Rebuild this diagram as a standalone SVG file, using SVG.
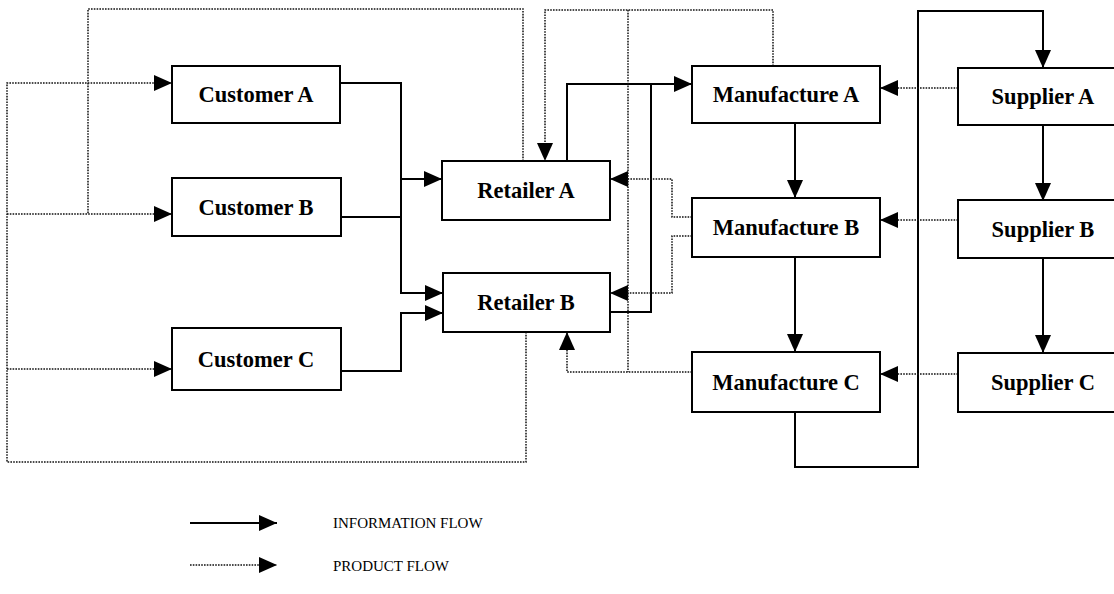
<svg xmlns="http://www.w3.org/2000/svg" width="1114" height="594" viewBox="0 0 1114 594">
<defs>
<style>
.box{fill:#fff;stroke:#000;stroke-width:2}
.lbl{font-family:"Liberation Serif","Times New Roman",serif;font-weight:bold;font-size:22.5px;fill:#000;text-anchor:middle}
.leg{font-family:"Liberation Serif","Times New Roman",serif;font-size:15px;fill:#000}
.info{fill:none;stroke:#000;stroke-width:2}
.prod{fill:none;stroke:#111;stroke-width:1.5;stroke-dasharray:1.6 1.2}
</style>
<marker id="ah" markerUnits="userSpaceOnUse" markerWidth="18" markerHeight="16" viewBox="0 0 18 16" refX="18" refY="8" orient="auto">
<path d="M0,0 L18,8 L0,16 Z" fill="#000"/>
</marker>
</defs>
<g id="connectors">
<!-- information flows -->
<path class="info" d="M340,83 H401 V179 H442" marker-end="url(#ah)"/>
<path class="info" d="M341,217 H401"/>
<path class="info" d="M401,179 V293 H443" marker-end="url(#ah)"/>
<path class="info" d="M341,371 H401 V313 H443" marker-end="url(#ah)"/>
<path class="info" d="M567,161 V84 H692" marker-end="url(#ah)"/>
<path class="info" d="M610,312 H651 V84"/>
<path class="info" d="M795,123 V198" marker-end="url(#ah)"/>
<path class="info" d="M795,257 V352" marker-end="url(#ah)"/>
<path class="info" d="M795,412 V467 H918 V11 H1043 V68" marker-end="url(#ah)"/>
<path class="info" d="M1043,125 V201" marker-end="url(#ah)"/>
<path class="info" d="M1043,258 V353" marker-end="url(#ah)"/>
<!-- product flows -->
<path class="prod" d="M958,88 H880" marker-end="url(#ah)"/>
<path class="prod" d="M958,220 H880" marker-end="url(#ah)"/>
<path class="prod" d="M958,374 H880" marker-end="url(#ah)"/>
<path class="prod" d="M773,66 V10 H545 V161" marker-end="url(#ah)"/>
<path class="prod" d="M692,217 H672 V179 H610" marker-end="url(#ah)"/>
<path class="prod" d="M692,236 H672 V293 H610" marker-end="url(#ah)"/>
<path class="prod" d="M692,372 H567 V332" marker-end="url(#ah)"/>
<path class="prod" d="M628,10 V372"/>
<path class="prod" d="M523,161 V9 H88 V214"/>
<path class="prod" d="M526,332 V462 H7 V83 H172" marker-end="url(#ah)"/>
<path class="prod" d="M7,214 H172" marker-end="url(#ah)"/>
<path class="prod" d="M7,369 H172" marker-end="url(#ah)"/>
</g>
<g id="customer-a"><rect class="box" x="172" y="66" width="168" height="57"/><text class="lbl" x="256" y="102">Customer A</text></g>
<g id="customer-b"><rect class="box" x="172" y="178" width="169" height="58"/><text class="lbl" x="256" y="215">Customer B</text></g>
<g id="customer-c"><rect class="box" x="172" y="328" width="169" height="62"/><text class="lbl" x="256" y="367">Customer C</text></g>
<g id="retailer-a"><rect class="box" x="442" y="161" width="168" height="59"/><text class="lbl" x="526" y="198">Retailer A</text></g>
<g id="retailer-b"><rect class="box" x="443" y="273" width="167" height="59"/><text class="lbl" x="526" y="310">Retailer B</text></g>
<g id="manufacture-a"><rect class="box" x="692" y="66" width="188" height="57"/><text class="lbl" x="786" y="102">Manufacture A</text></g>
<g id="manufacture-b"><rect class="box" x="692" y="198" width="188" height="59"/><text class="lbl" x="786" y="235">Manufacture B</text></g>
<g id="manufacture-c"><rect class="box" x="692" y="352" width="188" height="60"/><text class="lbl" x="786" y="390">Manufacture C</text></g>
<g id="supplier-a"><rect class="box" x="958" y="68" width="180" height="57"/><text class="lbl" x="1043" y="104">Supplier A</text></g>
<g id="supplier-b"><rect class="box" x="958" y="200" width="180" height="58"/><text class="lbl" x="1043" y="237">Supplier B</text></g>
<g id="supplier-c"><rect class="box" x="958" y="353" width="180" height="59"/><text class="lbl" x="1043" y="390">Supplier C</text></g>
<g id="legend">
<path class="info" d="M190,523 H277" marker-end="url(#ah)"/>
<path class="prod" d="M190,565 H277" marker-end="url(#ah)"/>
<text class="leg" x="333" y="528">INFORMATION FLOW</text>
<text class="leg" x="333" y="571">PRODUCT FLOW</text>
</g>
</svg>
